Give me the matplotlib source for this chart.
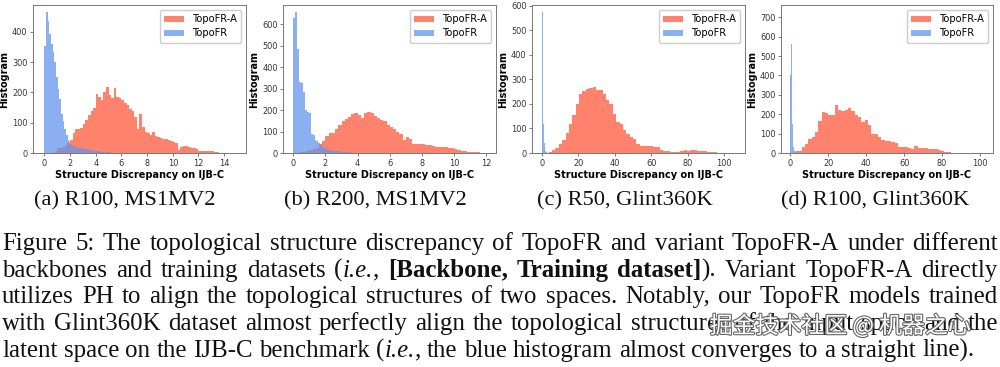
"""Structure discrepancy histograms of TopoFR vs TopoFR-A, with figure caption."""

import numpy as np
import matplotlib

matplotlib.use("Agg")
import matplotlib.pyplot as plt
import matplotlib.patheffects as pe
from matplotlib.ticker import MultipleLocator


# ---- data (bin start, bin width, counts) ----
# (a) R100, MS1MV2
a_red_start, a_red_width = 0.8, 0.2
a_red = [8, 15, 18, 20, 25, 35, 42, 65, 80, 80, 82, 95, 110, 125, 140, 150,
         195, 185, 175, 200, 218, 190, 180, 215, 185, 180, 175, 165, 160, 145,
         140, 120, 80, 130, 85, 70, 65, 60, 70, 55, 52, 48, 45, 45, 42, 38,
         36, 32, 9, 20, 22, 22, 20, 18, 16, 12, 8, 7, 7, 7, 6, 5, 4, 2]
a_blue_start, a_blue_width = 0.0, 0.13
a_blue = [352, 465, 435, 393, 360, 332, 300, 250, 212, 179, 130, 107, 80, 58,
          42, 30, 25, 22, 20, 20, 18, 17, 16, 15, 14, 13, 12, 10, 9, 8, 7, 6,
          6, 5, 4, 4, 3, 3, 2, 2]

# (b) R200, MS1MV2
b_red_start, b_red_width = 0.4, 0.2
b_red = [3, 5, 8, 12, 18, 25, 40, 55, 80, 92, 95, 112, 128, 150, 158, 168,
         182, 186, 176, 162, 185, 190, 184, 172, 165, 152, 148, 130, 122, 110,
         98, 88, 60, 76, 66, 42, 40, 40, 40, 38, 36, 33, 28, 27, 26, 26, 23,
         22, 18, 15, 10, 8, 6, 4, 4, 3, 2, 1]
b_blue_start, b_blue_width = 0.0, 0.12
b_blue = [628, 656, 483, 332, 324, 285, 200, 192, 185, 90, 83, 60, 55, 45,
          35, 28, 22, 18, 15, 12, 10, 9, 8, 7, 6, 5, 5, 4, 3, 3, 2, 2]

# (c) R50, Glint360K
c_red_start, c_red_width = 2.0, 1.85
c_red = [2, 6, 12, 22, 36, 52, 82, 118, 155, 200, 240, 252, 260, 266, 268,
         258, 255, 240, 215, 200, 160, 125, 118, 92, 76, 64, 58, 38, 28, 28,
         27, 27, 26, 24, 14, 10, 8, 6, 4, 6, 10, 12, 10, 14, 12, 10, 10, 10,
         6, 4, 3, 2, 2, 1, 1, 1]
c_blue_start, c_blue_width = 0.0, 0.25
c_blue = [350, 575, 420, 250, 120, 70, 40, 20, 10, 6, 3, 2]

# (d) R100, Glint360K
d_red_start, d_red_width = 2.5, 1.75
d_red = [8, 10, 30, 48, 74, 82, 108, 165, 210, 204, 196, 195, 250, 220, 218,
         222, 230, 218, 196, 188, 160, 170, 142, 100, 96, 80, 66, 64, 60, 55,
         50, 32, 31, 30, 24, 22, 34, 28, 27, 26, 22, 21, 20, 17, 10, 6, 4, 2]
d_blue_start, d_blue_width = 0.0, 0.25
d_blue = [400, 727, 560, 340, 150, 50, 30, 20, 10, 5, 3, 2]

panels = [
    ("(a) R100, MS1MV2", a_red_start, a_red_width, a_red,
     a_blue_start, a_blue_width, a_blue),
    ("(b) R200, MS1MV2", b_red_start, b_red_width, b_red,
     b_blue_start, b_blue_width, b_blue),
    ("(c) R50, Glint360K", c_red_start, c_red_width, c_red,
     c_blue_start, c_blue_width, c_blue),
    ("(d) R100, Glint360K", d_red_start, d_red_width, d_red,
     d_blue_start, d_blue_width, d_blue),
]
x_limits = [(-0.88, 15.7), (-0.62, 12.6), (-5.3, 111.5), (-4.9, 106.9)]
x_steps = [2, 2, 20, 20]
y_steps = [100, 100, 100, 100]

caption = [
    [("Figure 5: The topological structure discrepancy of TopoFR and variant "
      "TopoFR-A under different", "n")],
    [("backbones and training datasets (", "n"), ("i.e.", "i"), (", ", "n"),
     ("[Backbone, Training dataset]", "b"),
     ("). Variant TopoFR-A directly", "n")],
    [("utilizes PH to align the topological structures of two spaces. "
      "Notably, our TopoFR models trained", "n")],
    [("with Glint360K dataset almost perfectly align the topological "
      "structures of the input space and the", "n")],
    [("latent space on the IJB-C benchmark (", "n"), ("i.e.", "i"),
     (", the blue histogram almost converges to a straight line).", "n")],
]

RED = "tomato"
BLUE = "cornflowerblue"
SERIF = "Liberation Serif"
STYLES = {"n": {}, "i": {"style": "italic"}, "b": {"weight": "bold"}}

W_PX, H_PX = 1000, 367


def to_words(segments):
    words = [[]]
    for txt, st in segments:
        for k, part in enumerate(txt.split(" ")):
            if k > 0:
                words.append([])
            if part:
                words[-1].append((part, st))
    return [w for w in words if w]


def set_line(fig, renderer, segments, base_px, x0, x1, size, justify):
    y = 1 - base_px / H_PX
    words = []
    for word in to_words(segments):
        texts = []
        for txt, st in word:
            t = fig.text(0, y, txt, family=SERIF, fontsize=size,
                         va="baseline", ha="left", color="#111111",
                         **STYLES[st])
            texts.append((t, t.get_window_extent(renderer).width))
        words.append(texts)
    widths = [sum(w for _, w in word) for word in words]
    space = 0.25 * size * fig.dpi / 72
    if justify and len(words) > 1:
        space = (x1 - x0 - sum(widths)) / (len(words) - 1)
    x = x0
    for word, wsum in zip(words, widths):
        xx = x
        for t, w in word:
            t.set_x(xx / W_PX)
            xx += w
        x += wsum + space
    return x - space


def main():
    fig = plt.figure(figsize=(W_PX / 100, H_PX / 100), dpi=100)
    lefts = [33, 283.3, 532, 781]
    widths = [213, 212.7, 213, 212]
    top_px, bot_px = 5, 153

    for i, (label, rs, rw, rc, bs, bw, bc) in enumerate(panels):
        ax = fig.add_axes([lefts[i] / W_PX, 1 - bot_px / H_PX,
                           widths[i] / W_PX, (bot_px - top_px) / H_PX])
        r_edges = rs + rw * np.arange(len(rc) + 1)
        b_edges = bs + bw * np.arange(len(bc) + 1)
        ax.stairs(rc, r_edges, fill=True, color=RED, alpha=0.8,
                  label="TopoFR-A", linewidth=0)
        ax.stairs(bc, b_edges, fill=True, color=BLUE, alpha=0.75,
                  label="TopoFR", linewidth=0)
        ax.set_xlim(*x_limits[i])
        ax.set_ylim(0, max(max(rc), max(bc)) * 1.05)
        ax.xaxis.set_major_locator(MultipleLocator(x_steps[i]))
        ax.yaxis.set_major_locator(MultipleLocator(y_steps[i]))
        ax.tick_params(labelsize=5.9, length=2.5, width=0.5, pad=1.5,
                       colors="#444444", labelcolor="#333333")
        for sp in ax.spines.values():
            sp.set_color("#777777")
            sp.set_linewidth(0.7)
        ax.set_xlabel("Structure Discrepancy on IJB-C", fontsize=7,
                      fontweight="bold", labelpad=1.5)
        ax.set_ylabel("Histogram", fontsize=7, fontweight="bold", labelpad=2)
        ax.legend(loc="upper right", fontsize=7.1, handlelength=2.0,
                  handleheight=0.6, borderpad=0.45, labelspacing=0.4,
                  framealpha=1, edgecolor="#cccccc", fancybox=True)
        fig.text((125 + 250 * i) / W_PX, 1 - 205.5 / H_PX, label,
                 family=SERIF, fontsize=16.2, ha="center", va="baseline",
                 color="#111111")

    renderer = fig.canvas.get_renderer()

    # size the caption so its last (ragged) line ends where the reference's does
    probe = [fig.text(0, 0, txt, family=SERIF, fontsize=10, **STYLES[st])
             for txt, st in caption[-1]]
    probe_w = sum(t.get_window_extent(renderer).width for t in probe)
    for t in probe:
        t.remove()
    size = min(10 * 970 / probe_w, 18.0)

    bases = [250, 276.7, 303.3, 330, 356.7]
    for k, (segs, base) in enumerate(zip(caption, bases)):
        set_line(fig, renderer, segs, base, 2, 998, size,
                 justify=k < len(caption) - 1)

    fig.text(840 / W_PX, 1 - 333 / H_PX, "掘金技术社区 @ 机器之心",
             family=["Noto Sans CJK SC", "DejaVu Sans"], fontsize=16.5,
             ha="center", va="baseline", color="white",
             path_effects=[pe.withStroke(linewidth=1.6, foreground="#666666")])

    fig.savefig("out.png", dpi=100)
    plt.close(fig)


if __name__ == "__main__":
    main()
